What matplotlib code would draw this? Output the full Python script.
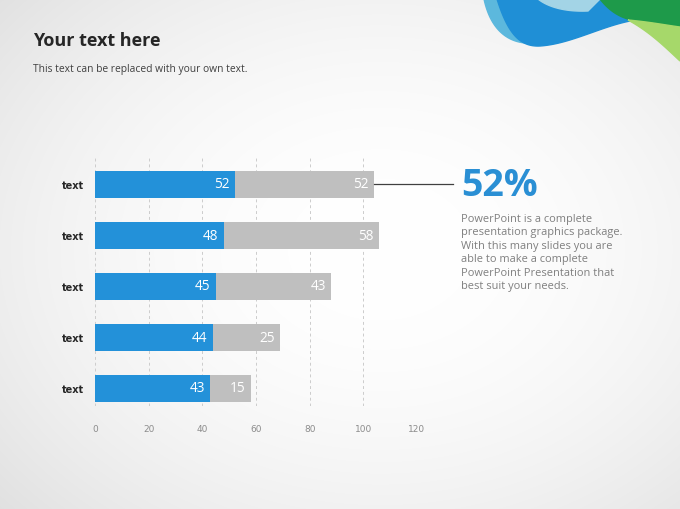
import numpy as np
import matplotlib
matplotlib.use("Agg")
import matplotlib.pyplot as plt
from matplotlib.patches import Polygon

categories = ["text", "text", "text", "text", "text"]
series_a = [52, 48, 45, 44, 43]
series_b = [52, 58, 43, 25, 15]
x_ticks = [0, 20, 40, 60, 80, 100, 120]

BLUE = "#2391d9"
GRAY = "#bfbfbf"

W, H = 680, 510
fig = plt.figure(figsize=(W / 100, H / 100), dpi=100)

# background
bg = fig.add_axes([0, 0, 1, 1])
bg.set_xlim(0, W)
bg.set_ylim(H, 0)
bg.axis("off")
yy, xx = np.mgrid[0:H, 0:W]
r = np.sqrt(((xx - 380) / 430.0) ** 2 + ((yy - 250) / 330.0) ** 2)
val = 1.0 - 0.085 * np.clip(r, 0, 1.3) ** 2
img = np.dstack([val, val, val])
bg.imshow(img, extent=[0, W, H, 0], aspect="auto", zorder=0)

# decorative waves top-right
def bez(p0, p1, p2, p3, n=40):
    t = np.linspace(0, 1, n)[:, None]
    p0, p1, p2, p3 = map(np.array, (p0, p1, p2, p3))
    return (1 - t) ** 3 * p0 + 3 * (1 - t) ** 2 * t * p1 + 3 * (1 - t) * t ** 2 * p2 + t ** 3 * p3

# light cyan back layer
c1 = np.vstack([[[484, 0]], bez((484, 0), (490, 28), (505, 42), (525, 44)), [[560, 0]]])
bg.add_patch(Polygon(c1, closed=True, color="#5cb8dd", zorder=1))
# main blue
b_low = bez((497, 0), (508, 35), (520, 48), (540, 47))
b_low2 = bez((540, 47), (570, 45), (600, 28), (630, 22))
blue_poly = np.vstack([b_low, b_low2, [[603, 0]]])
bg.add_patch(Polygon(blue_poly, closed=True, color="#1f8fd6", zorder=2))
# inner light highlight
hl = np.vstack([bez((538, 0), (548, 8), (565, 13), (588, 12)), [[600, 0]]])
bg.add_patch(Polygon(hl, closed=True, color="#a3d4e6", zorder=3))
# dark green
g = np.vstack([[[600, 0]], bez((600, 0), (607, 9), (617, 18), (632, 21)),
               bez((632, 21), (650, 23), (665, 26), (680, 30)), [[680, 0]]])
bg.add_patch(Polygon(g, closed=True, color="#1e9a4a", zorder=3))
# light green band
lg = np.vstack([bez((628, 21), (650, 23), (665, 26), (680, 28)), [[680, 62]],
                bez((680, 62), (665, 48), (650, 33), (628, 21))])
bg.add_patch(Polygon(lg, closed=True, color="#a6d86a", zorder=3))

# titles
fig.text(33 / W, 1 - 41 / H, "Your text here", fontsize=13, fontweight="bold",
         color="#262626", va="center", ha="left", family="Open Sans")
fig.text(33 / W, 1 - 70 / H, "This text can be replaced with your own text.", fontsize=7.4,
         color="#404040", va="center", ha="left", family="Open Sans")

# chart axes
x0, x1 = 95, 417
ytop, ybot = 158, 407
ax = fig.add_axes([x0 / W, 1 - ybot / H, (x1 - x0) / W, (ybot - ytop) / H])
ax.patch.set_alpha(0)
ypos = np.arange(len(categories))
bh = 27 / 51
ax.barh(ypos, series_a, height=bh, color=BLUE, zorder=3)
ax.barh(ypos, series_b, left=series_a, height=bh, color=GRAY, zorder=3)
for i, (a, b) in enumerate(zip(series_a, series_b)):
    ax.text(a - 2, i, str(a), color="white", ha="right", va="center", fontsize=9.8,
            zorder=4, family="Open Sans")
    ax.text(a + b - 2, i, str(b), color="white", ha="right", va="center", fontsize=9.8,
            zorder=4, family="Open Sans")
ax.set_xlim(0, 120)
ax.set_ylim(len(categories) - 1 + 18 / 51, -27 / 51)
ax.set_xticks(x_ticks)
ax.set_xticklabels([str(t) for t in x_ticks], fontsize=6.5, color="#8c8c8c")
ax.set_yticks(ypos)
ax.set_yticklabels(categories, fontsize=7, fontweight="bold", color="#262626")
for t in x_ticks:
    ax.axvline(t, color="#cccccc", linestyle=(0, (3, 3)), linewidth=0.7, zorder=1)
for s in ax.spines.values():
    s.set_visible(False)
ax.tick_params(length=0)
ax.tick_params(axis="y", pad=8)
ax.tick_params(axis="x", pad=13)

# connector line and callout
ax.plot([series_a[0] + series_b[0], 133.5], [0, 0], color="#404040", linewidth=0.9,
        clip_on=False, zorder=4)
fig.text(461 / W, 1 - 186 / H, "52%", fontsize=27, fontweight="bold", color="#2a8fd4",
         va="center", ha="left", family="Open Sans")
fig.text(461 / W, 1 - 214 / H,
         "PowerPoint is a complete\npresentation graphics package.\nWith this many slides you are\n"
         "able to make a complete\nPowerPoint Presentation that\nbest suit your needs.",
         fontsize=7.9, color="#7f7f7f", va="top", ha="left", linespacing=1.3,
         family="Open Sans")

fig.savefig("out.png", dpi=100)
